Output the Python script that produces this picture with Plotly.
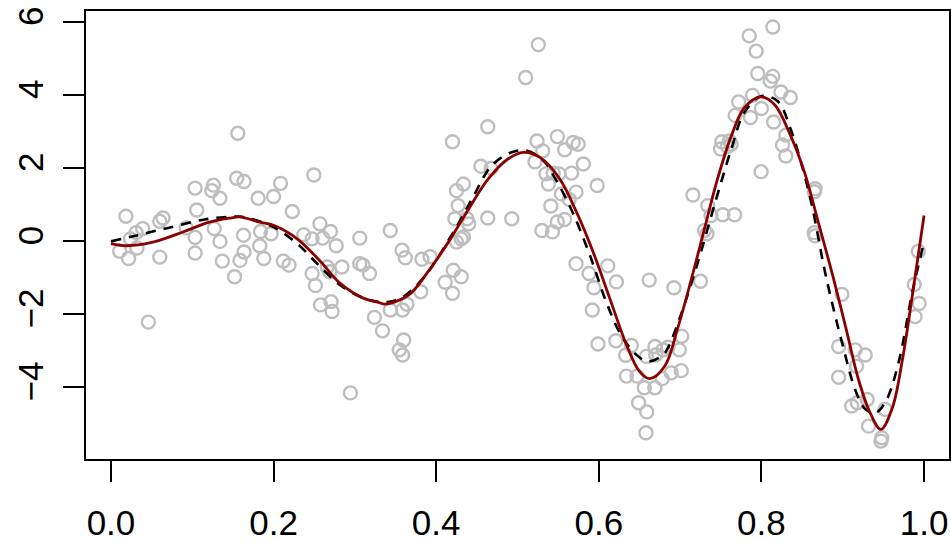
import plotly.graph_objects as go

# observed data points (x, y)
pts_x = [
    0.156, 0.1035, 0.126, 0.124, 0.134, 0.0184, 0.064, 0.06, 0.1055, 0.039, 0.031, 0.024, 0.0925,
    0.1035, 0.127, 0.134, 0.0107, 0.0217, 0.032, 0.06, 0.1035, 0.137, 0.152, 0.046,
    0.1546, 0.1636, 0.181, 0.2, 0.2086, 0.2495, 0.223, 0.163, 0.184, 0.183, 0.197, 0.1636, 0.1587,
    0.188, 0.212, 0.219, 0.237, 0.2474, 0.257, 0.2605, 0.27, 0.277, 0.2474, 0.2515, 0.266, 0.269,
    0.284, 0.2577, 0.2707, 0.272, 0.306, 0.306, 0.31, 0.318, 0.324, 0.2945,
    0.51, 0.4634, 0.42, 0.455, 0.4675, 0.425, 0.4335, 0.427, 0.423, 0.4377, 0.44, 0.4634, 0.493,
    0.425, 0.4307, 0.4335, 0.3436, 0.358, 0.362, 0.3824, 0.3926, 0.421, 0.4307, 0.411, 0.42, 0.381,
    0.334, 0.3436, 0.3587, 0.364, 0.36, 0.3546, 0.3587,
    0.5256, 0.524, 0.531, 0.5215, 0.549, 0.558, 0.5685, 0.5746, 0.581, 0.535, 0.544, 0.551, 0.538,
    0.5665, 0.598, 0.554, 0.5636, 0.572, 0.541, 0.53, 0.543, 0.549, 0.558, 0.572, 0.588, 0.594,
    0.611, 0.6217, 0.592, 0.662, 0.599, 0.621, 0.64, 0.633, 0.6585, 0.669, 0.67, 0.679, 0.634, 0.647,
    0.656, 0.669, 0.678, 0.649, 0.659, 0.658,
    0.814, 0.785, 0.7935, 0.7955, 0.814, 0.811, 0.824, 0.8356, 0.789, 0.772, 0.7677, 0.7865, 0.8,
    0.815, 0.83, 0.826, 0.83, 0.7513, 0.7607, 0.7497, 0.7628, 0.758, 0.7996, 0.7157, 0.734, 0.738,
    0.7525, 0.767, 0.73, 0.733, 0.6924, 0.725, 0.702, 0.699, 0.685, 0.7014, 0.689,
    0.866, 0.865, 0.865, 0.866, 0.899, 0.895, 0.9153, 0.9276, 0.917, 0.895, 0.911, 0.918, 0.930,
    0.9317, 0.952, 0.948, 0.947, 0.993, 0.988, 0.994, 0.989,
]
pts_y = [
    2.94, 1.44, 1.52, 1.37, 1.16, 0.67, 0.62, 0.53, 0.84, 0.33, 0.22, 0.05, 0.35,
    0.09, 0.33, -0.02, -0.29, -0.49, -0.2, -0.45, -0.34, -0.56, -0.99, -2.23,
    1.71, 1.62, 1.16, 1.21, 1.57, 1.8, 0.8, 0.15, 0.25, -0.14, 0.19, -0.31, -0.54,
    -0.49, -0.56, -0.67, 0.16, 0.05, 0.46, 0.07, 0.25, -0.14, -0.9, -1.23, -0.72, -0.85,
    -0.72, -1.76, -1.67, -1.94, 0.07, -0.63, -0.67, -0.9, -2.1, -4.17,
    4.47, 3.12, 2.71, 2.04, 1.98, 1.37, 1.55, 0.96, 0.6, 0.6, 0.46, 0.62, 0.6,
    -0.04, 0.05, 0.1, 0.28, -0.26, -0.47, -0.51, -0.44, -0.81, -0.99, -1.14, -1.44, -1.4,
    -2.47, -1.9, -1.9, -1.74, -2.72, -2.99, -3.13,
    5.37, 2.73, 2.46, 2.16, 2.85, 2.49, 2.69, 2.64, 2.1, 1.83, 1.85, 1.83, 1.55,
    1.85, 1.51, 1.28, 1.13, 1.33, 0.95, 0.28, 0.24, 0.51, 0.58, -0.63, -0.9, -1.29,
    -0.69, -1.13, -1.9, -1.08, -2.83, -2.74, -2.87, -3.14, -3.17, -2.9, -3.13, -2.99, -3.71, -3.71,
    -4.03, -4.03, -3.78, -4.44, -4.69, -5.26,
    5.85, 5.61, 5.19, 4.58, 4.5, 4.37, 4.07, 3.92, 3.98, 3.8, 3.43, 3.37, 3.62,
    3.25, 2.89, 2.62, 2.32, 2.71, 2.73, 2.51, 2.64, 2.58, 1.89, 1.25, 0.96, 0.69,
    0.71, 0.71, 0.28, 0.19, -1.29, -1.11, -2.62, -2.99, -2.92, -3.56, -3.62,
    1.42, 1.34, 0.22, 0.13, -1.47, -2.9, -2.99, -3.13, -3.44, -3.74, -4.53, -4.44, -4.35,
    -5.08, -4.62, -5.4, -5.49, -0.29, -1.2, -1.72, -2.08,
]

# true function (dashed)
true_x = [0.0, 0.033, 0.074, 0.115, 0.1436, 0.158, 0.172, 0.2, 0.229, 0.2536, 0.282, 0.311, 0.327,
          0.34, 0.358, 0.385, 0.419, 0.444, 0.468, 0.493, 0.511, 0.532, 0.548, 0.5685, 0.589, 0.609,
          0.626, 0.644, 0.6605, 0.679, 0.685, 0.701, 0.722, 0.742, 0.763, 0.779, 0.8, 0.82, 0.836,
          0.851, 0.863, 0.879, 0.8998, 0.916, 0.928, 0.9407, 0.953, 0.969, 0.9857, 1.0]
true_y = [-0.02, 0.15, 0.37, 0.58, 0.65, 0.66, 0.6, 0.37, -0.08, -0.63, -1.22, -1.58, -1.67,
          -1.68, -1.56, -1.0, 0.15, 1.14, 2.05, 2.42, 2.47, 2.19, 1.64, 0.74, -0.4, -1.67,
          -2.53, -3.08, -3.31, -3.13, -2.94, -2.03, -0.58, 0.96, 2.51, 3.51, 3.96, 3.82, 3.05,
          1.96, 0.87, -0.94, -2.85, -4.12, -4.62, -4.71, -4.4, -3.31, -1.4, -0.04]

# fitted curve (dark red)
fit_x = [0.0, 0.02, 0.05, 0.09, 0.12, 0.147, 0.158, 0.183, 0.2, 0.229, 0.258, 0.282, 0.311, 0.329,
         0.337, 0.366, 0.39, 0.415, 0.44, 0.464, 0.489, 0.507, 0.5276, 0.552, 0.5726, 0.593, 0.6135,
         0.634, 0.65, 0.6626, 0.681, 0.697, 0.714, 0.73, 0.746, 0.763, 0.779, 0.799, 0.816, 0.836,
         0.853, 0.871, 0.8875, 0.904, 0.92, 0.9346, 0.947, 0.961, 0.973, 0.9857, 1.0]
fit_y = [-0.08, -0.14, -0.05, 0.25, 0.5, 0.62, 0.65, 0.51, 0.42, 0.05, -0.58, -1.17, -1.58, -1.69,
         -1.74, -1.49, -0.85, -0.04, 0.87, 1.69, 2.25, 2.42, 2.28, 1.69, 0.78, -0.31, -1.58,
         -2.85, -3.58, -3.78, -3.44, -2.4, -1.04, 0.33, 1.69, 2.87, 3.64, 3.94, 3.73, 2.87,
         1.87, 0.42, -0.94, -2.4, -3.85, -4.76, -5.17, -4.58, -3.31, -1.49, 0.69]

x_ticks = [0.0, 0.2, 0.4, 0.6, 0.8, 1.0]
x_labels = ["0.0", "0.2", "0.4", "0.6", "0.8", "1.0"]
y_ticks = [-4, -2, 0, 2, 4, 6]
y_labels = ["\u22124", "\u22122", "0", "2", "4", "6"]

fig = go.Figure()
fig.add_trace(go.Scatter(
    x=pts_x, y=pts_y, mode="markers",
    marker=dict(symbol="circle-open", size=13, color="#BEBEBE", line=dict(width=2.4, color="#BEBEBE")),
    hoverinfo="skip", showlegend=False))
fig.add_trace(go.Scatter(
    x=true_x, y=true_y, mode="lines", line_shape="spline",
    line=dict(color="black", width=2.6, dash="10px,8px"), showlegend=False))
fig.add_trace(go.Scatter(
    x=fit_x, y=fit_y, mode="lines", line_shape="spline",
    line=dict(color="#8B0000", width=2.8), showlegend=False))

axis_font = dict(family="Liberation Sans, Arial, sans-serif", size=35, color="black")
fig.update_layout(
    width=951, height=542,
    margin=dict(l=86, r=0, t=11, b=81),
    paper_bgcolor="white", plot_bgcolor="white",
    xaxis=dict(range=[-0.0307, 1.0307], tickvals=x_ticks, ticktext=x_labels,
               showgrid=False, zeroline=False, showline=True, mirror=True,
               linecolor="black", linewidth=2, ticks="outside", ticklen=21,
               tickwidth=2, tickcolor="black", tickfont=axis_font, ticklabelstandoff=11),
    yaxis=dict(range=[-5.98, 6.29], tickvals=y_ticks, ticktext=y_labels,
               showgrid=False, zeroline=False, showline=True, mirror=True,
               linecolor="black", linewidth=2, ticks="outside", ticklen=21,
               tickwidth=2, tickcolor="black", tickfont=axis_font, tickangle=-90,
               ticklabelstandoff=6),
)
fig.write_html("out.html")
